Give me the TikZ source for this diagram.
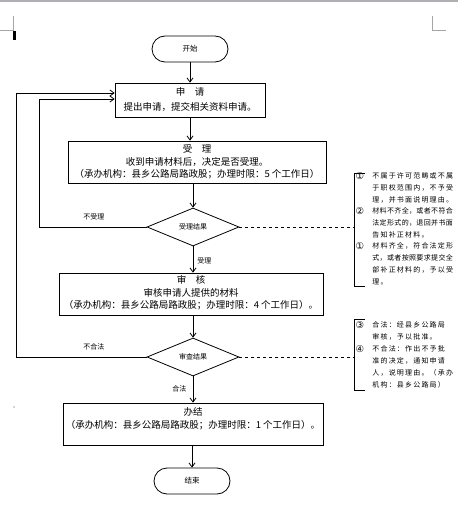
\documentclass[tikz,border=0pt]{standalone}
\usepackage{fontspec}
\setmainfont{Noto Sans CJK SC}
\newfontfamily\annfont[LetterSpace=17]{Noto Sans CJK SC}
\newfontfamily\annfonttight[LetterSpace=5]{Noto Sans CJK SC}
\newfontfamily\numfont{DejaVu Sans}
\usetikzlibrary{shapes.geometric,arrows.meta,calc}
\begin{document}
\begin{tikzpicture}[x=1pt,y=-1pt,line width=0.8pt,
  term/.style={draw,rounded corners=13pt,minimum width=76pt,minimum height=26pt,inner sep=0pt,font=\fontsize{7.5}{9}\selectfont},
  procbox/.style={draw,inner sep=0pt},
  boxtext/.style={align=center,inner sep=0pt,font=\fontsize{9.5}{12.5}\selectfont},
  decision/.style={draw,diamond,minimum width=92pt,minimum height=38pt,inner sep=0pt,font=\fontsize{7}{8}\selectfont},
  lbl/.style={inner sep=0pt,font=\fontsize{7}{8}\selectfont},
  ann/.style={anchor=west,inner sep=0pt,font=\annfont\fontsize{7}{8}\selectfont},
  anntight/.style={anchor=west,inner sep=0pt,font=\annfonttight\fontsize{7}{8}\selectfont},
  num/.style={inner sep=0pt,font=\numfont\fontsize{9.5}{10}\selectfont},
  arr/.style={-{Straight Barb[length=4pt,width=6pt]}},
  dashln/.style={dash pattern=on 3pt off 3pt}]
\useasboundingbox (0,0) rectangle (458,521);
% page decorations
\fill[black!25!blue!5!gray!60] (0,0) rectangle (458,2.5);
\draw[gray!70,line width=0.7pt] (0,30) -- (13,30) -- (13,16);
\draw[gray!70,line width=0.7pt] (432,16) -- (432,30) -- (446,30);
\fill[black] (13,31) rectangle (15.5,40);
\fill[black!70] (14,407) circle (0.6);
% nodes
\node[term] (start) at (190,49) {开始};
\node[procbox,minimum width=150pt,minimum height=34pt] (apply) at (190,100) {};
\node[boxtext,font=\fontsize{9.5}{15}\selectfont] (applyt) at (190,100) {申　请\\提出申请，提交相关资料申请。};
\node[procbox,minimum width=258pt,minimum height=42pt] (accept) at (197,162) {};
\node[boxtext] (acceptt) at (197,162) {受　理\\收到申请材料后，决定是否受理。\\（承办机构：县乡公路局路政股；办理时限：5 个工作日）};
\node[decision] (d1) at (193,227) {受理结果};
\node[procbox,minimum width=264pt,minimum height=42pt] (review) at (191,294) {};
\node[boxtext] (reviewt) at (191,293) {审　核\\审核申请人提供的材料\\（承办机构：县乡公路局路政股；办理时限：4 个工作日）。};
\node[decision] (d2) at (193,357) {审查结果};
\node[procbox,minimum width=260pt,minimum height=42pt] (done) at (193,424) {};
\node[boxtext] (donet) at (193,419) {办结\\（承办机构：县乡公路局路政股；办理时限：1 个工作日）。};
\node[term] (finish) at (192,481) {结束};
% labels
\node[lbl,anchor=west] (lno1) at (83,217) {不受理};
\node[lbl,anchor=west] (lyes1) at (197,261) {受理};
\node[lbl,anchor=west] (lno2) at (83,347) {不合法};
\node[lbl,anchor=west] (lyes2) at (172,389) {合法};
% connectors
\draw[arr] (start) -- (apply);
\draw[arr] (apply.south) -- (apply.south |- accept.north);
\draw[arr] (d1.north |- accept.south) -- (d1.north);
\draw[arr] (d1.south) -- (d1.south |- review.north);
\draw[arr] (d2.north |- review.south) -- (d2.north);
\draw[arr] (d2.south) -- (d2.south |- done.north);
\draw[arr] (finish.north |- done.south) -- (finish.north);
\coordinate (l1) at (39,227);
\coordinate (l2) at (16,357);
\draw[arr] (d1.west) -- (l1) |- ([yshift=1pt]apply.west);
\draw[arr] (d2.west) -- (l2) |- ([yshift=7pt]apply.west);
% annotation 1
\coordinate (b1) at (354,227);
\draw[dashln] (d1.east) -- (b1);
\draw (365,173) -- (354,173) -- (354,286) -- (365,286);
\node[num] (n1) at (360,176) {①};
\node[ann] (a11) at (372,176) {不属于许可范畴或不属};
\node[ann] (a12) at (372,188) {于职权范围内，不予受};
\node[ann] (a13) at (372,200) {理，并书面说明理由。};
\node[num] (n2) at (360,211) {②};
\node[anntight] (a21) at (372,211) {材料不齐全，或者不符合};
\node[anntight] (a22) at (372,223) {法定形式的，退回并书面};
\node[ann] (a23) at (372,235) {告知补正材料。};
\node[num] (n3) at (360,246) {①};
\node[ann] (a31) at (372,246) {材料齐全，符合法定形};
\node[anntight] (a32) at (372,258) {式，或者按照要求提交全};
\node[ann] (a33) at (372,270) {部补正材料的，予以受};
\node[ann] (a34) at (372,282) {理。};
% annotation 2
\coordinate (b2) at (354,357);
\draw[dashln] (d2.east) -- (b2);
\draw (365,319) -- (354,319) -- (354,390) -- (365,390);
\node[num] (n4) at (360,325) {③};
\node[ann] (c11) at (372,325) {合法：经县乡公路局};
\node[ann] (c12) at (372,337) {审核，予以批准。};
\node[num] (n5) at (360,349) {④};
\node[ann] (c21) at (372,349) {不合法：作出不予批};
\node[ann] (c22) at (372,361) {准的决定，通知申请};
\node[ann] (c23) at (372,373) {人，说明理由。（承办};
\node[ann] (c24) at (372,385) {机构：县乡公路局）};
\end{tikzpicture}
\end{document}
